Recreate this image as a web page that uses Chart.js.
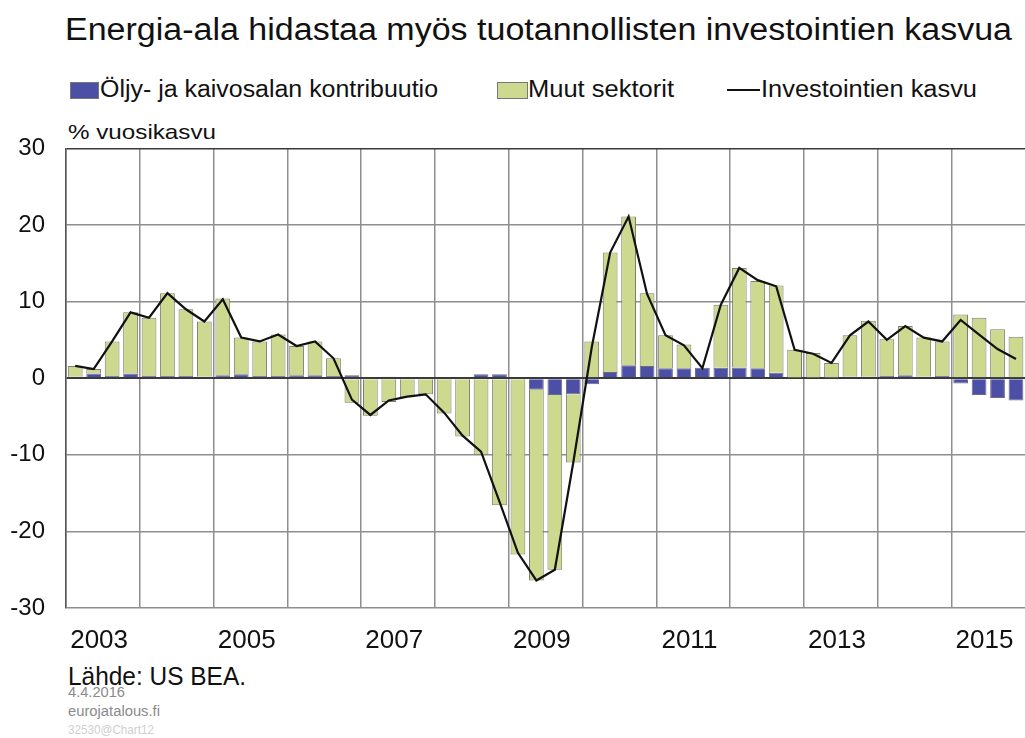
<!DOCTYPE html>
<html lang="fi">
<head>
<meta charset="utf-8">
<title>Energia-ala hidastaa myös tuotannollisten investointien kasvua</title>
<script src="https://cdn.jsdelivr.net/npm/chart.js@4/dist/chart.umd.min.js"></script>
<style>
  html, body { margin: 0; padding: 0; background: #fff; }
  body { width: 1025px; height: 738px; overflow: hidden; position: relative;
         font-family: "Liberation Sans", Arial, sans-serif; color: #111; }
  .abs { position: absolute; white-space: nowrap; transform-origin: 0 0; }
  #title { left: 65px; top: 12px; font-size: 31px; }
  .leg { top: 76px; font-size: 23px; }
  .swatch { position: absolute; top: 82px; height: 15px; border: 1px solid #777; }
  #unit { left: 68px; top: 120px; font-size: 21px; }
  #wrap { position: absolute; left: 0; top: 113px; width: 1033px; height: 547px; }
  #source { left: 68px; top: 662px; font-size: 25px; }
  .small { left: 68px; font-size: 14px; color: #8a8a8a; }
</style>
</head>
<body>
<div id="title" class="abs" data-w="947">Energia-ala hidastaa myös tuotannollisten investointien kasvua</div>

<div class="swatch" style="left:70px;width:27px;background:#4b4fa6"></div>
<div class="abs leg" style="left:100px" data-w="338">Öljy- ja kaivosalan kontribuutio</div>
<div class="swatch" style="left:497px;width:29px;background:#cdd98e"></div>
<div class="abs leg" style="left:528px" data-w="146">Muut sektorit</div>
<div class="abs" style="left:727px;top:89px;width:33px;height:2px;background:#111"></div>
<div class="abs leg" style="left:761px" data-w="216">Investointien kasvu</div>

<div id="unit" class="abs" data-w="148">% vuosikasvu</div>

<div id="wrap"><canvas id="chart"></canvas></div>

<div id="source" class="abs" data-w="178">Lähde: US BEA.</div>
<div class="abs small" style="top:684px" data-w="57">4.4.2016</div>
<div class="abs small" style="top:703px" data-w="92">eurojatalous.fi</div>
<div class="abs small" style="top:722px;font-size:13px;color:#cfcfcf" data-w="86">32530@Chart12</div>

<script>
/* ── Data: quarterly, 2003Q1 … 2015Q4 ───────────────────────────── */
const years = [2003, 2004, 2005, 2006, 2007, 2008, 2009, 2010, 2011, 2012, 2013, 2014, 2015];
const quarters = years.flatMap(y => [1, 2, 3, 4].map(q => `${y}Q${q}`));

// Öljy- ja kaivosalan kontribuutio (%-yks.)
const oilMining = [
  0.2, 0.6, 0.3, 0.6,   0.3, 0.3, 0.3, 0.2,   0.4, 0.5, 0.3, 0.3,
  0.4, 0.4, 0.3, 0.4,   0.1, 0.2, 0.1, 0.1,   0.1, 0.1, 0.5, 0.5,
  0.0, -1.5, -2.2, -2.1, -0.8, 0.8, 1.7, 1.6,  1.3, 1.3, 1.35, 1.35,
  1.4, 1.3, 0.7, 0.1,   0.1, 0.1, 0.2, 0.2,   0.3, 0.4, 0.2, 0.3,
  -0.7, -2.2, -2.6, -2.9
];
// Muut sektorit (%-yks.)
const otherSectors = [
  1.4, 0.6, 4.5, 8.0,   7.6, 10.8, 8.7, 7.2,   10.0, 4.8, 4.5, 5.4,
  3.8, 4.4, 2.3, -3.2,  -4.9, -3.1, -2.5, -2.1, -4.6, -7.6, -10.0, -16.6,
  -23.0, -24.9, -22.8, -8.9, 4.8, 15.6, 19.4, 9.5, 4.3, 3.1, 0.0, 8.25,
  13.0, 11.4, 11.4, 3.6, 3.2, 1.9, 5.4, 7.3,   4.8, 6.4, 5.1, 4.5,
  8.3, 7.9, 6.4, 5.4
];
// Investointien kasvu (% vuosikasvu)
const investGrowth = [
  1.6, 1.2, 4.8, 8.6,   7.9, 11.1, 9.0, 7.4,   10.3, 5.3, 4.8, 5.7,
  4.2, 4.8, 2.6, -2.8,  -4.8, -2.9, -2.4, -2.1, -4.5, -7.5, -9.6, -16.1,
  -22.8, -26.4, -25.0, -11.0, 4.0, 16.4, 21.1, 11.0, 5.6, 4.3, 1.3, 9.6,
  14.4, 12.8, 12.0, 3.7, 3.2, 2.0, 5.6, 7.4,   5.0, 6.8, 5.3, 4.8,
  7.6, 5.7, 3.8, 2.5
];
const yTicks = [-30, -20, -10, 0, 10, 20, 30];

/* ── Squeeze text to the reference widths ───────────────────────── */
document.querySelectorAll('[data-w]').forEach(el => {
  const w = el.getBoundingClientRect().width;
  el.style.transform = `scaleX(${Number(el.dataset.w) / w})`;
});

/* ── Chart ──────────────────────────────────────────────────────── */
const GRID = '#8e8e8e';
const FONT = '"Liberation Sans", Arial';
const ctx = document.getElementById('chart');
new Chart(ctx.getContext('2d'), {
  type: 'bar',
  data: {
    labels: quarters,
    datasets: [
      {
        type: 'line',
        label: 'Investointien kasvu',
        data: investGrowth,
        borderColor: '#111',
        borderWidth: 2.2,
        pointRadius: 0,
        tension: 0,
        stack: 'line',
        order: 0,
      },
      {
        label: 'Öljy- ja kaivosalan kontribuutio',
        data: oilMining,
        backgroundColor: '#4b4fa6',
        borderColor: '#6a6a80',
        borderWidth: 1,
        stack: 'bars',
        order: 1,
      },
      {
        label: 'Muut sektorit',
        data: otherSectors,
        backgroundColor: '#cdd98e',
        borderColor: '#7d7d72',
        borderWidth: 1,
        stack: 'bars',
        order: 1,
      },
    ]
  },
  options: {
    responsive: true, maintainAspectRatio: false, animation: false,
    layout: { padding: { top: 8, right: 2, left: 0, bottom: 0 } },
    datasets: { bar: { barPercentage: 0.8, categoryPercentage: 1 } },
    plugins: { legend: { display: false }, tooltip: { enabled: false } },
    scales: {
      x: {
        stacked: true,
        offset: true,
        afterFit: s => { s.height = 52; },
        border: { display: false },
        grid: {
          offset: true,
          drawTicks: false,
          lineWidth: 1.5,
          color: c => (c.index % 4 === 0 ? GRID : 'rgba(0,0,0,0)'),
        },
        ticks: {
          autoSkip: false, maxRotation: 0, padding: 17, labelOffset: -13,
          color: '#111', font: { family: FONT, size: 26 },
          callback: (v, i) => (i % 8 === 2 ? String(years[Math.floor(i / 4)]) : ''),
        },
      },
      y: {
        stacked: true,
        min: -30, max: 30,
        afterFit: s => { s.width = 66; },
        afterBuildTicks: s => { s.ticks = yTicks.map(v => ({ value: v })); },
        border: { color: '#555', width: 1.5 },
        grid: {
          drawTicks: false,
          lineWidth: c => (c.tick && c.tick.value === 0 ? 2 : 1.5),
          color: c => (c.tick && (c.tick.value === 0 || c.tick.value === 30) ? '#3a3a3a' : GRID),
        },
        ticks: {
          padding: 21,
          color: '#111', font: { family: FONT, size: 24 },
        },
      },
    },
  },
});
</script>
</body>
</html>
